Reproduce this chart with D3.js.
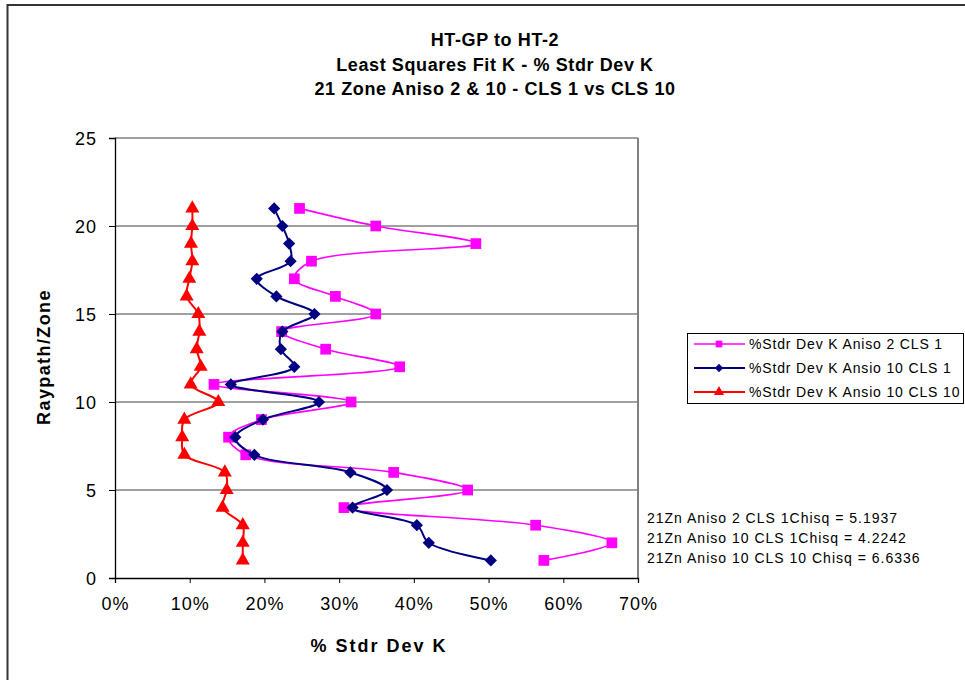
<!DOCTYPE html>
<html>
<head>
<meta charset="utf-8">
<script src="https://cdn.jsdelivr.net/npm/d3@7"></script>
<style>
  html, body { margin: 0; padding: 0; background: #fff; }
  svg { display: block; font-family: "Liberation Sans", Arial, sans-serif; }
</style>
</head>
<body>
<svg id="chart" width="965" height="680"></svg>
<script>
// Raypath / zone numbers (y axis)
const zones = [21, 20, 19, 18, 17, 16, 15, 14, 13, 12, 11, 10, 9, 8, 7, 6, 5, 4, 3, 2, 1];

// % standard deviation of K per zone
const aniso2Cls1 = [24.7, 34.9, 48.3, 26.3, 24.0, 29.5, 34.9, 22.3, 28.2, 38.1, 13.25,
                    31.6, 19.6, 15.2, 17.5, 37.3, 47.2, 30.65, 56.3, 66.5, 57.4];
const aniso10Cls1 = [21.3, 22.4, 23.3, 23.5, 18.97, 21.6, 26.7, 22.4, 22.2, 24.0, 15.5,
                     27.3, 19.8, 16.1, 18.65, 31.5, 36.4, 31.8, 40.4, 42.0, 50.3];
const aniso10Cls10 = [10.35, 10.35, 10.17, 10.35, 9.95, 9.59, 11.15, 11.29, 10.94, 11.47, 10.13,
                      13.83, 9.28, 9.0, 9.28, 14.7, 14.95, 14.4, 17.1, 17.1, 17.1];

const seriesNames = ["%Stdr Dev K Aniso 2 CLS 1", "%Stdr Dev K Ansio 10 CLS 1", "%Stdr Dev K Ansio 10 CLS 10"];
const chisqNotes = ["21Zn Aniso 2 CLS 1Chisq = 5.1937",
                    "21Zn Aniso 10 CLS 1Chisq = 4.2242",
                    "21Zn Aniso 10 CLS 10 Chisq = 6.6336"];
const titleLines = ["HT-GP to HT-2", "Least Squares Fit K - % Stdr Dev K", "21 Zone Aniso 2 & 10 - CLS 1 vs CLS 10"];
const xTicks = [0, 10, 20, 30, 40, 50, 60, 70];
const yTicks = [0, 5, 10, 15, 20, 25];

const series = [
  { name: seriesNames[0], values: aniso2Cls1, color: "#ff00ff", width: 1.6, marker: "square" },
  { name: seriesNames[1], values: aniso10Cls1, color: "#000080", width: 2, marker: "diamond" },
  { name: seriesNames[2], values: aniso10Cls10, color: "#ff0000", width: 2, marker: "triangle" }
];

const svg = d3.select("#chart");

// Outer chart frame
svg.append("rect")
  .attr("x", 7.5).attr("y", 5).attr("width", 990).attr("height", 700)
  .attr("fill", "#fff").attr("stroke", "#333").attr("stroke-width", 2);

const plot = { left: 115, top: 138, right: 638, bottom: 578 };
const x = d3.scaleLinear().domain([0, 70]).range([plot.left, plot.right]);
const y = d3.scaleLinear().domain([0, 25]).range([plot.bottom, plot.top]);

// Horizontal gridlines
svg.append("g").selectAll("line")
  .data(yTicks.filter(d => d > 0))
  .join("line")
  .attr("x1", plot.left).attr("x2", plot.right)
  .attr("y1", d => y(d)).attr("y2", d => y(d))
  .attr("stroke", "#808080").attr("stroke-width", 1.3);

// Plot-area border (right side)
svg.append("line")
  .attr("x1", plot.right).attr("x2", plot.right)
  .attr("y1", plot.top).attr("y2", plot.bottom)
  .attr("stroke", "#808080").attr("stroke-width", 2);

// Axes
const yAxis = d3.axisLeft(y).tickValues(yTicks).tickSize(6).tickPadding(12).tickFormat(d3.format("d"));
const xAxis = d3.axisBottom(x).tickValues(xTicks).tickSize(5).tickPadding(11).tickFormat(d => d + "%");

const gy = svg.append("g").attr("transform", `translate(${plot.left},0)`).call(yAxis);
const gx = svg.append("g").attr("transform", `translate(0,${plot.bottom})`).call(xAxis);
[gy, gx].forEach(g => {
  g.select(".domain").attr("stroke", "#000").attr("stroke-width", 1.3);
  g.selectAll(".tick line").attr("stroke", "#000").attr("stroke-width", 1);
  g.selectAll(".tick text").attr("fill", "#000").style("font-size", "18px")
    .style("letter-spacing", "1px")
    .style("font-family", "'Liberation Sans', Arial, sans-serif");
});
gy.selectAll(".tick text").attr("dy", "0.35em");
gx.selectAll(".tick text").attr("dy", "0.9em");

// Marker symbols
const symbolFor = {
  square: d3.symbol().type(d3.symbolSquare).size(115),
  diamond: d3.symbol().type(d3.symbolDiamond2).size(95),
  triangle: d3.symbol().type(d3.symbolTriangle).size(85)
};
const legendSymbolFor = {
  square: d3.symbol().type(d3.symbolSquare).size(45),
  diamond: d3.symbol().type(d3.symbolDiamond2).size(45),
  triangle: d3.symbol().type(d3.symbolTriangle).size(45)
};

const line = d3.line()
  .x(d => x(d.v)).y(d => y(d.z))
  .curve(d3.curveCatmullRom.alpha(0.5));

series.forEach(s => {
  const pts = s.values.map((v, i) => ({ v, z: zones[i] }));
  const g = svg.append("g");
  g.append("path")
    .datum(pts)
    .attr("d", line)
    .attr("fill", "none")
    .attr("stroke", s.color)
    .attr("stroke-width", s.width);
  g.selectAll("path.mk")
    .data(pts)
    .join("path")
    .attr("class", "mk")
    .attr("d", symbolFor[s.marker])
    .attr("transform", d => `translate(${x(d.v)},${y(d.z)})`)
    .attr("fill", s.color);
});

// Title
svg.append("g").selectAll("text")
  .data(titleLines)
  .join("text")
  .attr("x", 495)
  .attr("y", (d, i) => 46 + i * 24.5)
  .attr("text-anchor", "middle")
  .style("font-size", "18px").style("font-weight", "bold")
  .style("letter-spacing", "0.6px")
  .text(d => d);

// Axis titles
svg.append("text")
  .attr("x", 379).attr("y", 652)
  .attr("text-anchor", "middle")
  .style("font-size", "18px").style("font-weight", "bold")
  .style("letter-spacing", "2px")
  .text("% Stdr Dev K");

svg.append("text")
  .attr("transform", "translate(50,357) rotate(-90)")
  .attr("text-anchor", "middle")
  .style("font-size", "18px").style("font-weight", "bold")
  .style("letter-spacing", "1.4px")
  .text("Raypath/Zone");

// Legend
const legend = svg.append("g");
legend.append("rect")
  .attr("x", 687.5).attr("y", 333.5).attr("width", 276).attr("height", 70)
  .attr("fill", "#fff").attr("stroke", "#000").attr("stroke-width", 1);
series.forEach((s, i) => {
  const ly = 344 + i * 24;
  legend.append("line")
    .attr("x1", 694).attr("x2", 745).attr("y1", ly).attr("y2", ly)
    .attr("stroke", s.color).attr("stroke-width", s.width);
  legend.append("path")
    .attr("d", legendSymbolFor[s.marker])
    .attr("transform", `translate(719,${ly})`)
    .attr("fill", s.color);
  legend.append("text")
    .attr("x", 749).attr("y", ly).attr("dy", "0.35em")
    .style("font-size", "14px").style("letter-spacing", "0.85px")
    .text(s.name);
});

// Chi-square notes
svg.append("g").selectAll("text")
  .data(chisqNotes)
  .join("text")
  .attr("x", 647)
  .attr("y", (d, i) => 518 + i * 20)
  .attr("dy", "0.35em")
  .style("font-size", "14px").style("letter-spacing", "1px")
  .text(d => d);
</script>
</body>
</html>
